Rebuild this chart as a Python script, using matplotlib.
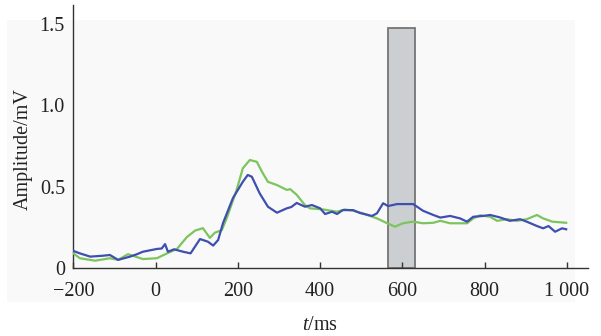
import matplotlib
matplotlib.use("Agg")
import matplotlib.pyplot as plt
from matplotlib.patches import Rectangle

plt.rcParams['font.family'] = ['Liberation Serif', 'DejaVu Serif']
plt.rcParams['mathtext.fontset'] = 'custom'
plt.rcParams['mathtext.rm'] = 'Liberation Serif'
plt.rcParams['mathtext.it'] = 'Liberation Serif:italic'

# Data
blue_t = [-200, -184, -159, -130, -111, -91, -62, -45, -31, 3, 15, 23, 30, 45, 52, 67, 85, 108, 127, 140, 152,
          164, 188, 212, 224, 234, 253, 273, 295, 319, 330, 343, 363, 380, 400, 412, 429, 441,
          455, 480, 497, 526, 538, 553, 565, 587, 611, 626, 650, 675, 692, 716, 740, 757,
          772, 796, 813, 837, 861, 886, 902, 927, 942, 955, 971, 988, 998]
blue_v = [0.105, 0.09, 0.07, 0.075, 0.08, 0.05, 0.07, 0.085, 0.10, 0.117, 0.12, 0.147, 0.10, 0.115, 0.11, 0.10, 0.09, 0.178, 0.162, 0.138, 0.172,
          0.277, 0.43, 0.53, 0.572, 0.561, 0.459, 0.377, 0.34, 0.367, 0.375, 0.40, 0.377, 0.387, 0.367, 0.332, 0.346, 0.332,
          0.356, 0.356, 0.338, 0.32, 0.336, 0.398, 0.381, 0.393, 0.393, 0.393, 0.352, 0.326, 0.31, 0.32, 0.305, 0.285,
          0.315, 0.32, 0.326, 0.311, 0.29, 0.30, 0.285, 0.258, 0.244, 0.258, 0.223, 0.244, 0.238]

green_t = [-200, -184, -147, -111, -91, -67, -31, 3, 28, 52, 76, 96, 115, 132, 144, 161, 173,
           197, 212, 229, 246, 259, 273, 295, 319, 327, 343, 363, 375, 407, 441, 460, 480,
           504, 538, 563, 582, 601, 626, 650, 675, 692, 716, 757, 772, 789, 813, 830, 854,
           878, 902, 927, 942, 964, 998]
green_v = [0.09, 0.06, 0.045, 0.06, 0.05, 0.085, 0.055, 0.06, 0.09, 0.117, 0.19, 0.23, 0.245, 0.185, 0.217, 0.233, 0.307,
           0.48, 0.613, 0.664, 0.653, 0.59, 0.53, 0.51, 0.48, 0.485, 0.45, 0.387, 0.367, 0.36, 0.346, 0.36, 0.352,
           0.336, 0.305, 0.275, 0.254, 0.275, 0.285, 0.275, 0.278, 0.29, 0.275, 0.275, 0.305, 0.324, 0.315, 0.29, 0.30,
           0.29, 0.30, 0.326, 0.305, 0.285, 0.278]

window_start, window_end, window_height = 565, 630, 1.475

x_ticks = [-200, 0, 200, 400, 600, 800, 1000]
x_ticklabels = ['\u2212200', '0', '200', '400', '600', '800', '1 000']
y_ticks = [0, 0.5, 1.0, 1.5]
y_ticklabels = ['0', '0.5', '1.0', '1.5']

fig = plt.figure(figsize=(6.01, 3.36), dpi=100)
fig.patch.set_facecolor('white')
bg = Rectangle((7/601, 1-302/336), (575-7)/601, (302-20)/336, transform=fig.transFigure,
               facecolor='#f9f9f9', edgecolor='none', zorder=-10)
fig.patches.append(bg)

ax = fig.add_axes([73.3/601, 1-268/336, (588-73.3)/601, (268-5)/336])
ax.set_facecolor('none')

ax.add_patch(Rectangle((window_start, 0), window_end-window_start, window_height,
                       facecolor='#cbcfd2', edgecolor='#757575', lw=1.3, zorder=1))

ax.plot(green_t, green_v, color='#7cc45c', lw=1.6, zorder=3)
ax.plot(blue_t, blue_v, color='#3f4fb0', lw=1.6, zorder=4)

ax.set_xlim(-200, 1051)
ax.set_ylim(0, 1.617)
ax.set_xticks(x_ticks)
ax.set_xticklabels(x_ticklabels)
ax.set_yticks(y_ticks)
ax.set_yticklabels(y_ticklabels)

for s in ['top', 'right']:
    ax.spines[s].set_visible(False)
for s in ['left', 'bottom']:
    ax.spines[s].set_color('#333333')
    ax.spines[s].set_linewidth(1.0)

ax.tick_params(axis='x', direction='in', length=4, width=1, color='#333333',
               labelsize=14.5, pad=10, labelcolor='#222222')
ax.tick_params(axis='y', length=0, labelsize=14.5, pad=6, labelcolor='#222222')

fig.text(23/601, 1-149/336, 'Amplitude/mV', rotation=90, ha='center', va='center',
         fontsize=14.5, color='#222222')
fig.text(320/601, 1-325/336, r'$t$/ms', ha='center', va='center', fontsize=14.5, color='#222222')

fig.savefig('out.png', dpi=100)
